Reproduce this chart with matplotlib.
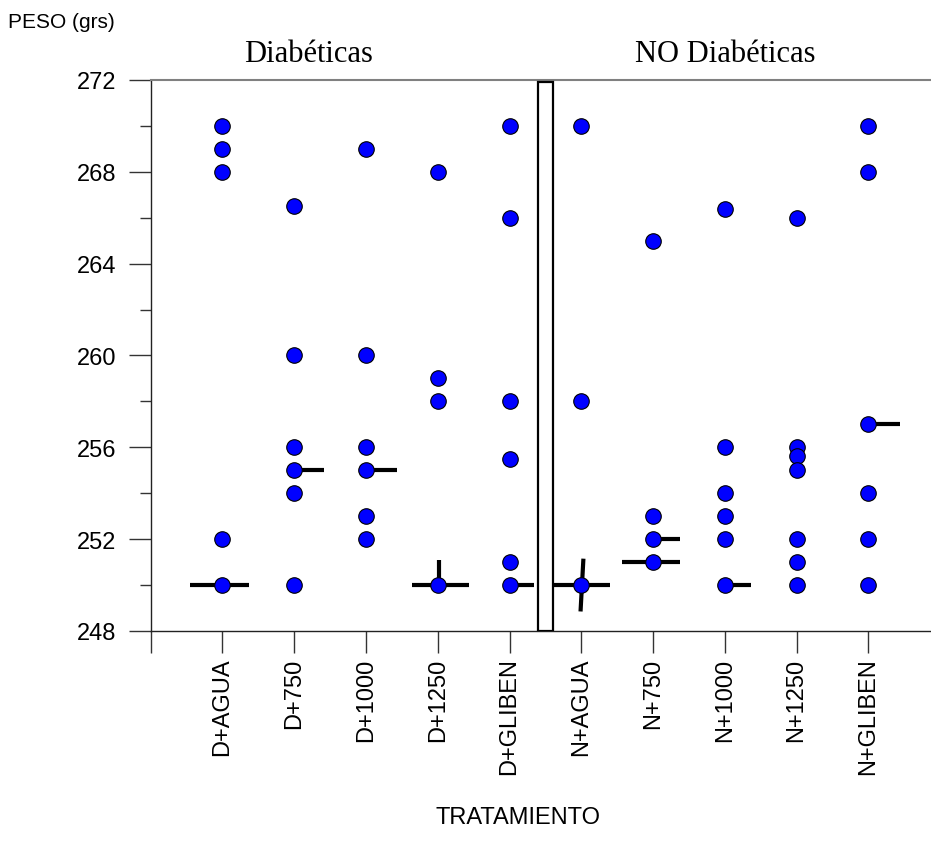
import matplotlib
matplotlib.use("Agg")
import matplotlib.pyplot as plt
from matplotlib.patches import Rectangle
from matplotlib.ticker import MultipleLocator

# ---- data ----
categories = ["D+AGUA", "D+750", "D+1000", "D+1250", "D+GLIBEN",
              "N+AGUA", "N+750", "N+1000", "N+1250", "N+GLIBEN"]
values = [
    [270, 269, 268, 252, 250],
    [266.5, 260, 256, 255, 254, 250],
    [269, 260, 256, 255, 253, 252],
    [268, 259, 258, 250],
    [270, 266, 258, 255.5, 251, 250],
    [270, 258, 250],
    [265, 253, 252, 251],
    [266.4, 256, 254, 253, 252, 250],
    [266, 256, 255.6, 255, 252, 251, 250],
    [270, 268, 257, 254, 252, 250],
]
# horizontal reference bars: (y value, x start, x end) in category units
h_y = [250, 255, 255, 250, 250, 250, 252, 251, 250, 257]
h_x0 = [-0.45, 1.0, 2.0, 2.64, 4.0, 4.6, 6.0, 5.57, 7.0, 9.0]
h_x1 = [0.37, 1.42, 2.43, 3.44, 4.34, 5.40, 6.37, 6.38, 7.36, 9.44]
# vertical bars: (x start, y start, x end, y end)
v_x0 = [3.02, 5.03]
v_y0 = [250.0, 251.15]
v_x1 = [3.02, 4.99]
v_y1 = [251.1, 248.85]

group_titles = ["Diabéticas", "NO Diabéticas"]
y_ticks = [248, 252, 256, 260, 264, 268, 272]

fig = plt.figure(figsize=(9.31, 8.53), dpi=100)
ax = fig.add_axes([0.1619, 0.2591, 0.8478, 0.6460])
ax.set_xlim(-1, 10)
ax.set_ylim(248, 272)

# reference bars
for y, x0, x1 in zip(h_y, h_x0, h_x1):
    ax.plot([x0, x1], [y, y], color="black", lw=3.0, solid_capstyle="butt", zorder=2)
for x0, y0, x1, y1 in zip(v_x0, v_y0, v_x1, v_y1):
    ax.plot([x0, x1], [y0, y1], color="black", lw=3.0, solid_capstyle="butt", zorder=2)

# separator box
ax.add_patch(Rectangle((4.4, 248.0), 0.2, 23.9, facecolor="white",
                       edgecolor="black", lw=1.6, zorder=3))

# points
for i, vals in enumerate(values):
    ax.scatter([i] * len(vals), vals, s=125, color="#0000FF",
               edgecolors="black", linewidths=0.8, zorder=4)

ax.set_xticks(range(len(categories)))
ax.set_xticklabels(categories, rotation=90, fontsize=17, family="Liberation Sans")
ax.set_xticks([-1], minor=True)
ax.set_yticks(y_ticks)
ax.set_yticklabels([str(t) for t in y_ticks], fontsize=17, family="Liberation Sans")
ax.yaxis.set_minor_locator(MultipleLocator(2))

ax.tick_params(axis="y", which="major", direction="out", length=16, width=1,
               color="#333333", pad=9)
ax.tick_params(axis="y", which="minor", direction="out", length=8, width=1,
               color="#333333")
ax.tick_params(axis="x", which="both", direction="out", length=16, width=1,
               color="#333333", pad=3)

for s in ["left", "bottom"]:
    ax.spines[s].set_color("#222222")
    ax.spines[s].set_linewidth(1.0)
ax.spines["top"].set_color("#808080")
ax.spines["top"].set_linewidth(1.5)
ax.spines["right"].set_visible(False)

# group titles
ax.text(1.2, 1.022, group_titles[0], transform=ax.get_xaxis_transform(),
        ha="center", va="bottom", fontsize=22, family="Liberation Serif")
ax.text(7.0, 1.022, group_titles[1], transform=ax.get_xaxis_transform(),
        ha="center", va="bottom", fontsize=22, family="Liberation Serif")

fig.text(8 / 931, 1 - 22 / 853, "PESO (grs)", ha="left", va="center",
         fontsize=15, family="Liberation Sans")
fig.text(518 / 931, 1 - 818 / 853, "TRATAMIENTO", ha="center", va="center",
         fontsize=17, family="Liberation Sans")

fig.savefig("out.png", dpi=100)
